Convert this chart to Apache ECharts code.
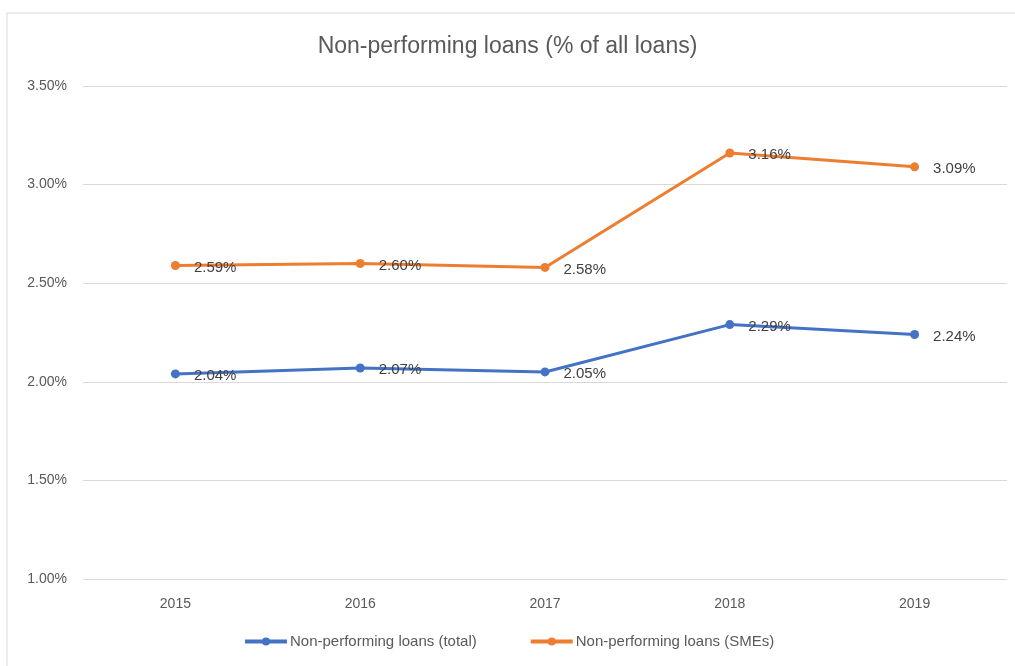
<!DOCTYPE html>
<html>
<head>
<meta charset="utf-8">
<script src="https://cdn.jsdelivr.net/npm/echarts@6/dist/echarts.min.js"></script>
<style>html,body{margin:0;padding:0;background:#fff;}#c{width:1015px;height:666px;}</style>
</head>
<body>
<div id="c"></div>
<script>
const years = ['2015', '2016', '2017', '2018', '2019'];
const totalNPL = [2.04, 2.07, 2.05, 2.29, 2.24];
const smeNPL = [2.59, 2.60, 2.58, 3.16, 3.09];
const seriesNames = ['Non-performing loans (total)', 'Non-performing loans (SMEs)'];
const titleText = 'Non-performing loans (% of all loans)';

const font = '"Liberation Sans", "DejaVu Sans", sans-serif';
const chart = echarts.init(document.getElementById('c'), null, {renderer: 'canvas'});
function mkSeries(name, data, color) {
  return {
    name: name, type: 'line', data: data,
    symbol: 'circle', symbolSize: 9,
    lineStyle: {color: color, width: 3},
    itemStyle: {color: color},
    label: {
      show: true, position: 'right', distance: 14, offset: [0, 2],
      color: '#404040', fontSize: 15, fontFamily: font,
      formatter: p => p.value.toFixed(2) + '%'
    },
    z: 3
  };
}
chart.setOption({
  animation: false,
  backgroundColor: '#fff',
  title: {
    text: titleText, left: 'center', top: 30,
    textStyle: {color: '#595959', fontSize: 23, fontWeight: 'normal', fontFamily: font}
  },
  legend: {
    bottom: 12, left: 238, itemWidth: 42, itemHeight: 10, itemGap: 52,
    lineStyle: {width: 4},
    textStyle: {color: '#595959', fontSize: 15, fontFamily: font, padding: [0, 0, 0, -2]},
    data: seriesNames
  },
  grid: {left: 83, right: 8, top: 86, bottom: 87, containLabel: false},
  xAxis: {
    type: 'category', data: years, boundaryGap: true,
    axisLine: {show: false}, axisTick: {show: false},
    axisLabel: {color: '#595959', fontSize: 14, fontFamily: font, margin: 18}
  },
  yAxis: {
    type: 'value', min: 1.0, max: 3.5, interval: 0.5,
    axisLine: {show: false}, axisTick: {show: false},
    axisLabel: {color: '#595959', fontSize: 14, fontFamily: font, margin: 16,
      formatter: v => v.toFixed(2) + '%'},
    splitLine: {lineStyle: {color: '#d9d9d9', width: 1}}
  },
  graphic: [{
    type: 'rect', shape: {x: 7, y: 13, width: 1020, height: 700},
    style: {fill: 'none', stroke: '#d9d9d9', lineWidth: 1}, silent: true, z: -1
  }],
  series: [
    mkSeries(seriesNames[0], totalNPL, '#4472C4'),
    mkSeries(seriesNames[1], smeNPL, '#ED7D31')
  ]
});
</script>
</body>
</html>
